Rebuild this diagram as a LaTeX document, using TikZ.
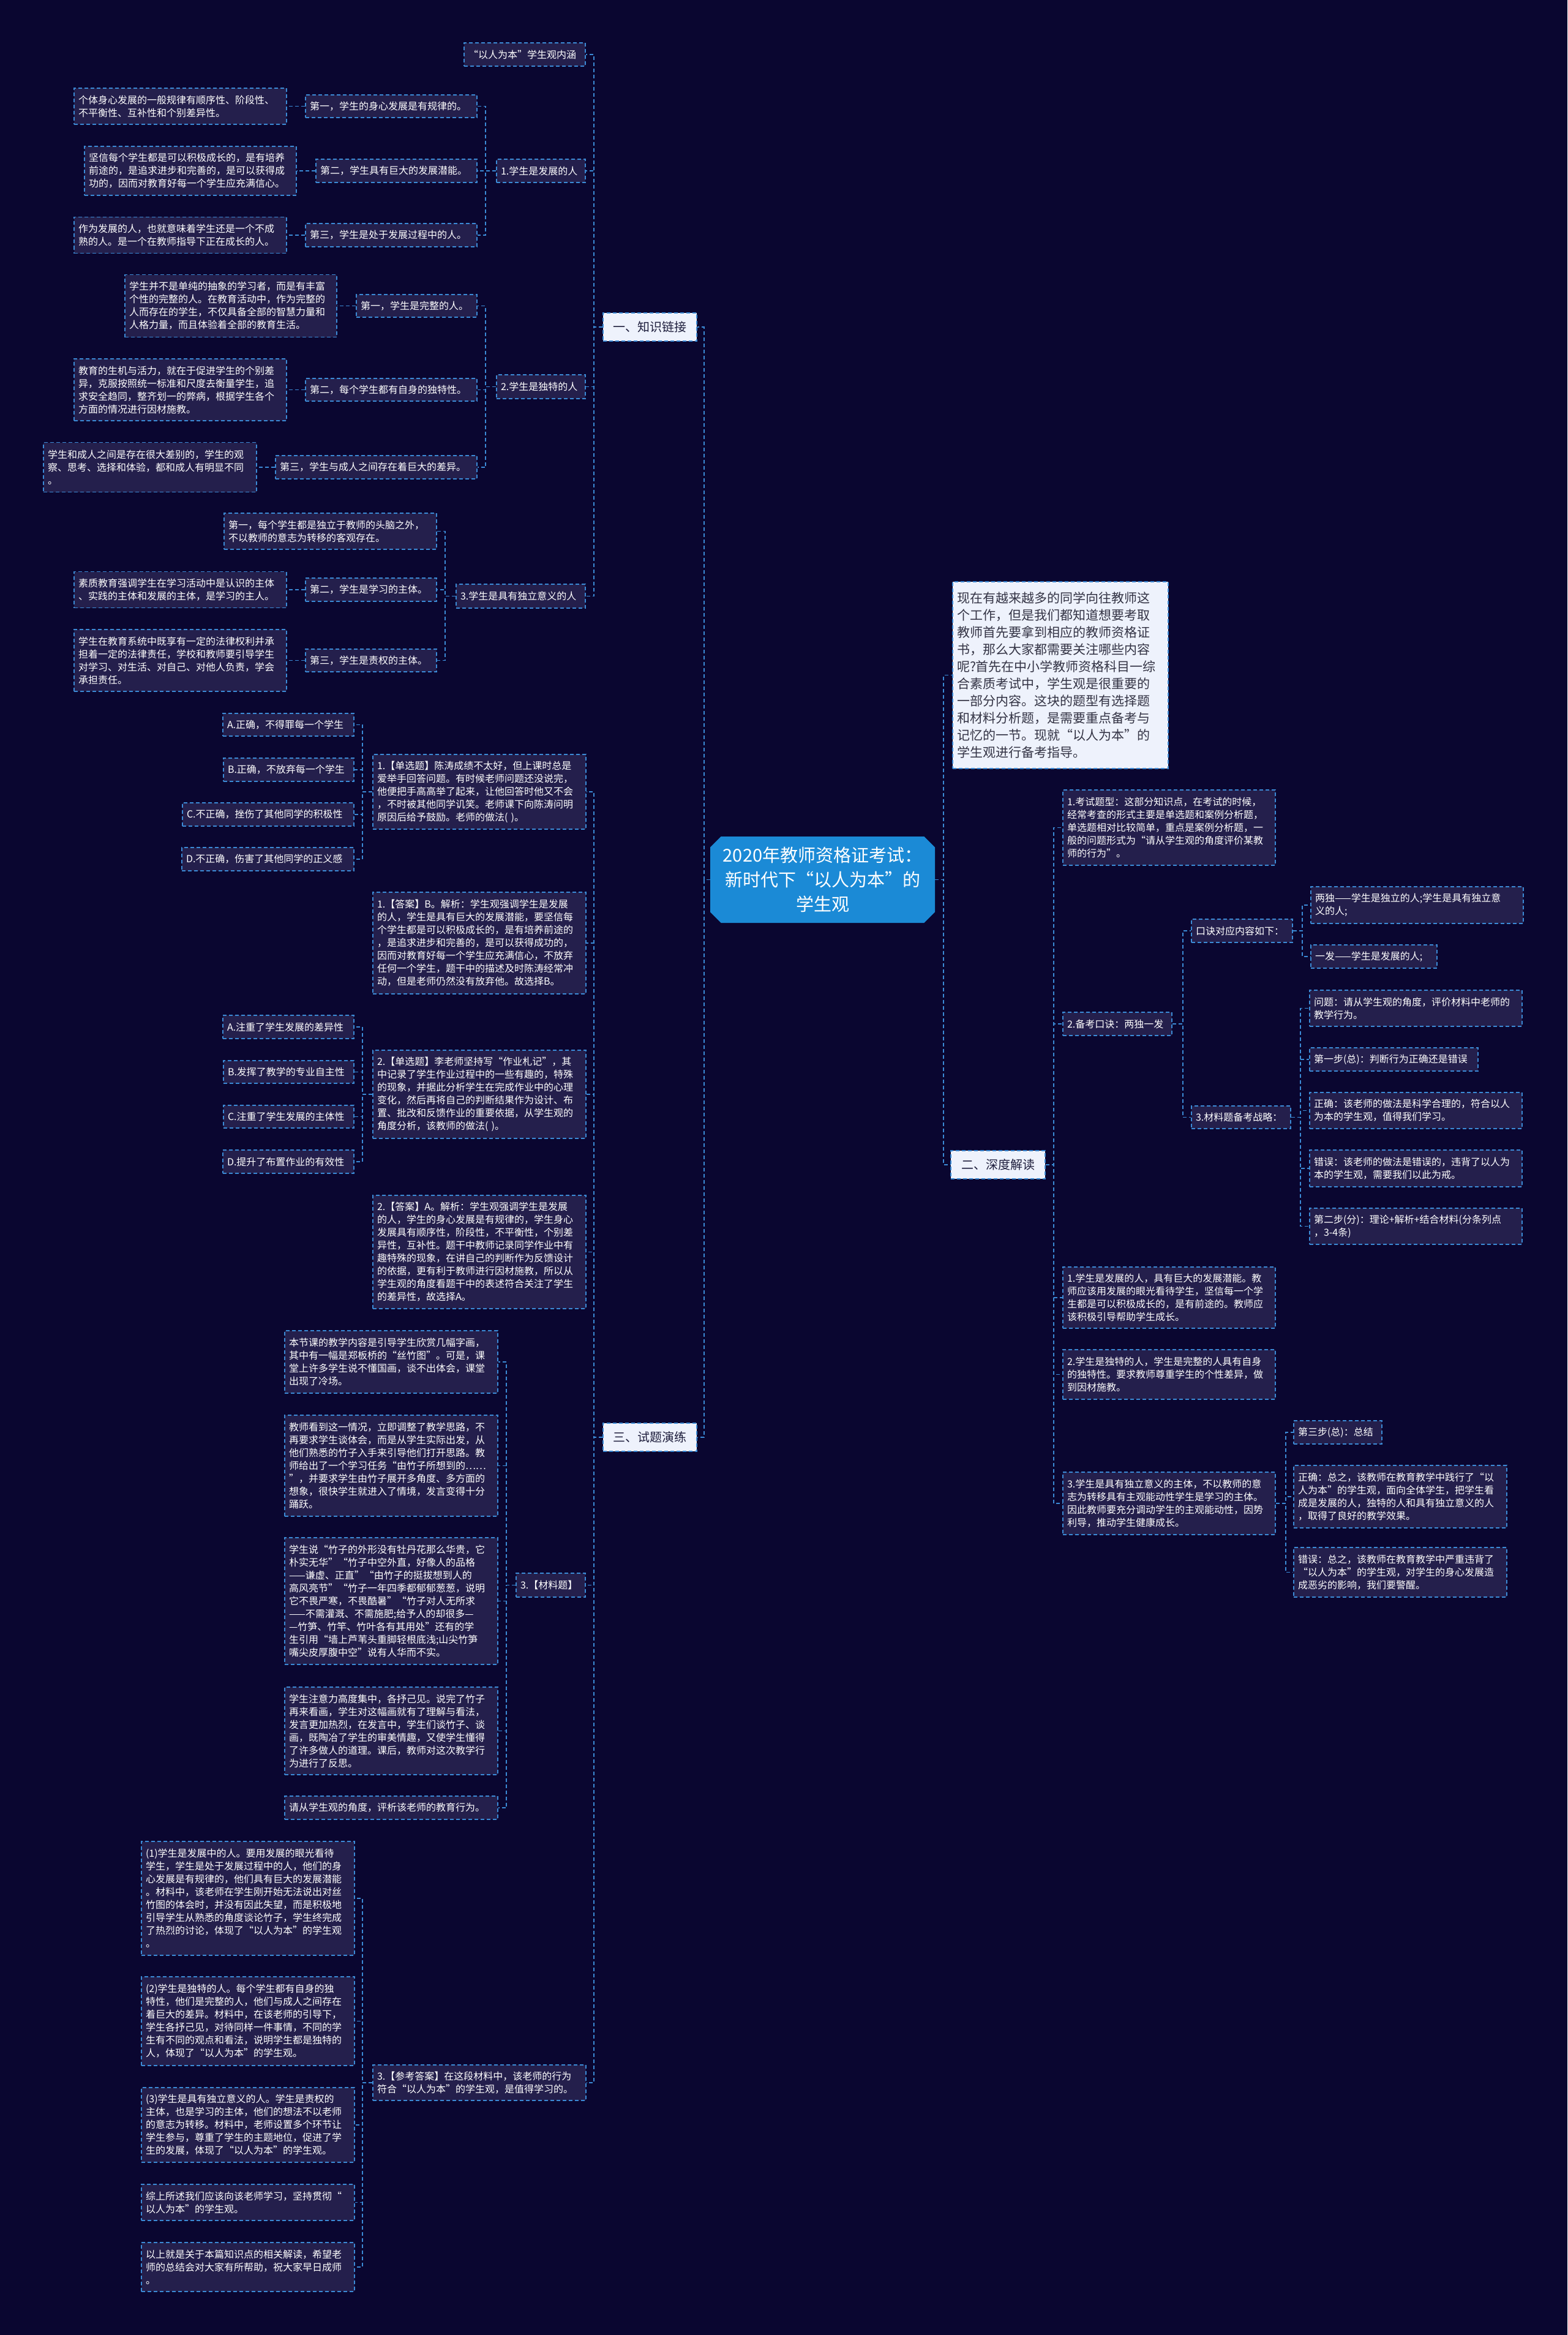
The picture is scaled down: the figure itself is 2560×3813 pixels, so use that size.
\documentclass[tikz,border=0pt]{standalone}
\usepackage{fontspec}
\setmainfont{Noto Sans CJK SC}
\usetikzlibrary{shapes.misc}
\definecolor{bgc}{HTML}{0A0630}
\definecolor{boxc}{HTML}{241F4C}
\definecolor{linec}{HTML}{3B8AD5}
\definecolor{hubc}{HTML}{1B8AD6}
\definecolor{lightc}{HTML}{EEF2FC}
\definecolor{inkc}{HTML}{1E1E3C}
\definecolor{introink}{HTML}{333344}
\tikzset{
  dsh/.style={dash pattern=on 6pt off 4pt, line width=1.6pt},
  leaf/.style={draw=linec, dsh, fill=boxc, text=white, inner xsep=7pt, inner ysep=3pt, align=left, font=\fontsize{16}{21}\selectfont},
  sect/.style={draw=linec, dsh, fill=lightc, text=inkc, inner sep=0pt, minimum width=153pt, minimum height=46pt, font=\fontsize{20}{24}\selectfont},
  intro/.style={draw=linec, dsh, fill=lightc, text=introink, inner xsep=7pt, inner ysep=3pt, align=left, font=\fontsize{21}{28}\selectfont},
  hub/.style={chamfered rectangle, chamfered rectangle xsep=14pt, fill=hubc, text=white, align=center, font=\fontsize{29}{40}\selectfont, minimum width=367pt, minimum height=141pt, inner sep=0pt},
  link/.style={draw=linec, dsh},
}
\newcommand\lnk[3]{\draw[link] (#1.west) -- ++(-#3,0) |- (#2.east);}
\newcommand\rnk[3]{\draw[link] (#1.east) -- ++(#3,0) |- (#2.west);}
\begin{document}
\begin{tikzpicture}[x=1pt,y=-1pt]
\fill[bgc] (0,0) rectangle (2560,3813);
\useasboundingbox (0,0) rectangle (2560,3813);

% ---------- centre ----------
\node[hub] (hub) at (1343.5,1436.5) {2020年教师资格证考试：\\新时代下“以人为本”的\\学生观};

% ---------- section 1 ----------
\node[sect] (sec1) at (1061.5,534) {一、知识链接};
\node[leaf,text width=184pt,minimum height=38pt] (neihan) at (857,89) {“以人为本”学生观内涵};
\node[leaf,text width=131pt,minimum height=38pt] (dev1) at (883.5,279) {1.学生是发展的人};
\node[leaf,text width=131pt,minimum height=39pt] (dev2) at (883.5,631.5) {2.学生是独特的人};
\node[leaf,text width=197pt,minimum height=39pt] (dev3) at (850.5,973.5) {3.学生是具有独立意义的人};

\node[leaf,text width=266pt,minimum height=37pt] (a1) at (639,173.5) {第一，学生的身心发展是有规律的。};
\node[leaf,text width=333pt,minimum height=59pt] (a1d) at (294.5,173.5) {个体身心发展的一般规律有顺序性、阶段性、\\不平衡性、互补性和个别差异性。};
\node[leaf,text width=249pt,minimum height=38pt] (a2) at (647.5,279) {第二，学生具有巨大的发展潜能。};
\node[leaf,text width=332pt,minimum height=80pt] (a2d) at (311,279) {坚信每个学生都是可以积极成长的，是有培养\\前途的，是追求进步和完善的，是可以获得成\\功的，因而对教育好每一个学生应充满信心。};
\node[leaf,text width=266pt,minimum height=38pt] (a3) at (639,384) {第三，学生是处于发展过程中的人。};
\node[leaf,text width=333pt,minimum height=59pt] (a3d) at (294.5,384) {作为发展的人，也就意味着学生还是一个不成\\熟的人。是一个在教师指导下正在成长的人。};

\node[leaf,text width=183pt,minimum height=37pt] (b1) at (680.5,499.5) {第一，学生是完整的人。};
\node[leaf,text width=332pt,minimum height=102pt] (b1d) at (377,499.5) {学生并不是单纯的抽象的学习者，而是有丰富\\个性的完整的人。在教育活动中，作为完整的\\人而存在的学生，不仅具备全部的智慧力量和\\人格力量，而且体验着全部的教育生活。};
\node[leaf,text width=266pt,minimum height=37pt] (b2) at (639,636.5) {第二，每个学生都有自身的独特性。};
\node[leaf,text width=333pt,minimum height=101pt] (b2d) at (294.5,636.5) {教育的生机与活力，就在于促进学生的个别差\\异，克服按照统一标准和尺度去衡量学生，追\\求安全趋同，整齐划一的弊病，根据学生各个\\方面的情况进行因材施教。};
\node[leaf,text width=315pt,minimum height=38pt] (b3) at (614.5,763) {第三，学生与成人之间存在着巨大的差异。};
\node[leaf,text width=334pt,minimum height=81pt] (b3d) at (245,763) {学生和成人之间是存在很大差别的，学生的观\\察、思考、选择和体验，都和成人有明显不同\\。};

\node[leaf,text width=333pt,minimum height=59pt] (c1) at (539.5,867.5) {第一，每个学生都是独立于教师的头脑之外，\\不以教师的意志为转移的客观存在。};
\node[leaf,text width=200pt,minimum height=38pt] (c2) at (606,963) {第二，学生是学习的主体。};
\node[leaf,text width=333pt,minimum height=59pt] (c2d) at (294.5,963) {素质教育强调学生在学习活动中是认识的主体\\、实践的主体和发展的主体，是学习的主人。};
\node[leaf,text width=200pt,minimum height=37pt] (c3) at (606,1078.5) {第三，学生是责权的主体。};
\node[leaf,text width=333pt,minimum height=101pt] (c3d) at (294.5,1078.5) {学生在教育系统中既享有一定的法律权利并承\\担着一定的法律责任，学校和教师要引导学生\\对学习、对生活、对自己、对他人负责，学会\\承担责任。};

% ---------- section 3 ----------
\node[sect] (sec3) at (1061.5,2347) {三、试题演练};
\node[leaf,text width=334pt,minimum height=122pt] (q1) at (783,1293) {1.【单选题】陈涛成绩不太好，但上课时总是\\爱举手回答问题。有时候老师问题还没说完，\\他便把手高高举了起来，让他回答时他又不会\\，不时被其他同学讥笑。老师课下向陈涛问明\\原因后给予鼓励。老师的做法(~)。};
\node[leaf,text width=200pt,minimum height=37pt] (optA) at (471,1183.5) {A.正确，不得罪每一个学生};
\node[leaf,text width=199pt,minimum height=38pt] (optB) at (471.5,1257) {B.正确，不放弃每一个学生};
\node[leaf,text width=266pt,minimum height=38pt] (optC) at (438,1330) {C.不正确，挫伤了其他同学的积极性};
\node[leaf,text width=267pt,minimum height=38pt] (optD) at (437.5,1403) {D.不正确，伤害了其他同学的正义感};
\node[leaf,text width=334pt,minimum height=166pt] (ans1) at (783,1540) {1.【答案】B。解析：学生观强调学生是发展\\的人，学生是具有巨大的发展潜能，要坚信每\\个学生都是可以积极成长的，是有培养前途的\\，是追求进步和完善的，是可以获得成功的，\\因而对教育好每一个学生应充满信心，不放弃\\任何一个学生，题干中的描述及时陈涛经常冲\\动，但是老师仍然没有放弃他。故选择B。};
\node[leaf,text width=334pt,minimum height=144pt] (q2) at (783,1787) {2.【单选题】李老师坚持写“作业札记”，其\\中记录了学生作业过程中的一些有趣的，特殊\\的现象，并据此分析学生在完成作业中的心理\\变化，然后再将自己的判断结果作为设计、布\\置、批改和反馈作业的重要依据，从学生观的\\角度分析，该教师的做法(~)。};
\node[leaf,text width=200pt,minimum height=38pt] (optA2) at (471,1677) {A.注重了学生发展的差异性};
\node[leaf,text width=199pt,minimum height=37pt] (optB2) at (471.5,1750.5) {B.发挥了教学的专业自主性};
\node[leaf,text width=199pt,minimum height=37pt] (optC2) at (471.5,1823.5) {C.注重了学生发展的主体性};
\node[leaf,text width=200pt,minimum height=38pt] (optD2) at (471,1897) {D.提升了布置作业的有效性};
\node[leaf,text width=334pt,minimum height=185pt] (ans2) at (783,2044.5) {2.【答案】A。解析：学生观强调学生是发展\\的人，学生的身心发展是有规律的，学生身心\\发展具有顺序性，阶段性，不平衡性，个别差\\异性，互补性。题干中教师记录同学作业中有\\趣特殊的现象，在讲自己的判断作为反馈设计\\的依据，更有利于教师进行因材施教，所以从\\学生观的角度看题干中的表述符合关注了学生\\的差异性，故选择A。};
\node[leaf,text width=99pt,minimum height=39pt] (mat) at (899.5,2588.5) {3.【材料题】};
\node[leaf,text width=334pt,minimum height=102pt] (m1) at (639,2224) {本节课的教学内容是引导学生欣赏几幅字画，\\其中有一幅是郑板桥的“丝竹图”。可是，课\\堂上许多学生说不懂国画，谈不出体会，课堂\\出现了冷场。};
\node[leaf,text width=334pt,minimum height=165pt] (m2) at (639,2393.5) {教师看到这一情况，立即调整了教学思路，不\\再要求学生谈体会，而是从学生实际出发，从\\他们熟悉的竹子入手来引导他们打开思路。教\\师给出了一个学习任务“由竹子所想到的……\\”，并要求学生由竹子展开多角度、多方面的\\想象，很快学生就进入了情境，发言变得十分\\踊跃。};
\node[leaf,text width=334pt,minimum height=207pt] (m3) at (639,2614.5) {学生说“竹子的外形没有牡丹花那么华贵，它\\朴实无华”“竹子中空外直，好像人的品格\\——谦虚、正直”“由竹子的挺拔想到人的\\高风亮节”“竹子一年四季都郁郁葱葱，说明\\它不畏严寒，不畏酷暑”“竹子对人无所求\\——不需灌溉、不需施肥;给予人的却很多—\\—竹笋、竹竿、竹叶各有其用处”还有的学\\生引用“墙上芦苇头重脚轻根底浅;山尖竹笋\\嘴尖皮厚腹中空”说有人华而不实。};
\node[leaf,text width=334pt,minimum height=143pt] (m4) at (639,2826.5) {学生注意力高度集中，各抒己见。说完了竹子\\再来看画，学生对这幅画就有了理解与看法，\\发言更加热烈，在发言中，学生们谈竹子、谈\\画，既陶冶了学生的审美情趣，又使学生懂得\\了许多做人的道理。课后，教师对这次教学行\\为进行了反思。};
\node[leaf,text width=334pt,minimum height=38pt] (m5) at (639,2952) {请从学生观的角度，评析该老师的教育行为。};
\node[leaf,text width=334pt,minimum height=58pt] (ref) at (783,3401) {3.【参考答案】在这段材料中，该老师的行为\\符合“以人为本”的学生观，是值得学习的。};
\node[leaf,text width=334pt,minimum height=186pt] (r1) at (405,3100) {(1)学生是发展中的人。要用发展的眼光看待\\学生，学生是处于发展过程中的人，他们的身\\心发展是有规律的，他们具有巨大的发展潜能\\。材料中，该老师在学生刚开始无法说出对丝\\竹图的体会时，并没有因此失望，而是积极地\\引导学生从熟悉的角度谈论竹子，学生终完成\\了热烈的讨论，体现了“以人为本”的学生观\\。};
\node[leaf,text width=334pt,minimum height=145pt] (r2) at (405,3300.5) {(2)学生是独特的人。每个学生都有自身的独\\特性，他们是完整的人，他们与成人之间存在\\着巨大的差异。材料中，在该老师的引导下，\\学生各抒己见，对待同样一件事情，不同的学\\生有不同的观点和看法，说明学生都是独特的\\人，体现了“以人为本”的学生观。};
\node[leaf,text width=334pt,minimum height=122pt] (r3) at (405,3470) {(3)学生是具有独立意义的人。学生是责权的\\主体，也是学习的主体，他们的想法不以老师\\的意志为转移。材料中，老师设置多个环节让\\学生参与，尊重了学生的主题地位，促进了学\\生的发展，体现了“以人为本”的学生观。};
\node[leaf,text width=334pt,minimum height=59pt] (r4) at (405,3596.5) {综上所述我们应该向该老师学习，坚持贯彻“\\以人为本”的学生观。};
\node[leaf,text width=334pt,minimum height=80pt] (r5) at (405,3702) {以上就是关于本篇知识点的相关解读，希望老\\师的总结会对大家有所帮助，祝大家早日成师\\。};

% ---------- section 2 ----------
\node[intro,text width=338pt,minimum height=305pt] (intro) at (1732,1102.5) {现在有越来越多的同学向往教师这\\个工作，但是我们都知道想要考取\\教师首先要拿到相应的教师资格证\\书，那么大家都需要关注哪些内容\\呢?首先在中小学教师资格科目一综\\合素质考试中，学生观是很重要的\\一部分内容。这块的题型有选择题\\和材料分析题，是需要重点备考与\\记忆的一节。现就“以人为本”的\\学生观进行备考指导。};
\node[sect,minimum width=154pt] (sec2) at (1630,1902) {二、深度解读};
\node[leaf,text width=333pt,minimum height=123pt] (k1) at (1909.5,1351.5) {1.考试题型：这部分知识点，在考试的时候，\\经常考查的形式主要是单选题和案例分析题，\\单选题相对比较简单，重点是案例分析题，一\\般的问题形式为“请从学生观的角度评价某教\\师的行为”。};
\node[leaf,text width=164pt,minimum height=38pt] (k2) at (1825,1672) {2.备考口诀：两独一发};
\node[leaf,text width=151pt,minimum height=38pt] (kj) at (2028.5,1520) {口诀对应内容如下：};
\node[leaf,text width=333pt,minimum height=60pt] (kj1) at (2314.5,1478) {两独——学生是独立的人;学生是具有独立意\\义的人;};
\node[leaf,text width=192pt,minimum height=38pt] (kj2) at (2244,1562) {一发——学生是发展的人;};
\node[leaf,text width=148pt,minimum height=37pt] (st) at (2027,1824.5) {3.材料题备考战略：};
\node[leaf,text width=333pt,minimum height=59pt] (st0) at (2312.5,1646.5) {问题：请从学生观的角度，评价材料中老师的\\教学行为。};
\node[leaf,text width=261pt,minimum height=38pt] (st1) at (2276.5,1730) {第一步(总)：判断行为正确还是错误};
\node[leaf,text width=333pt,minimum height=59pt] (st2) at (2312.5,1813.5) {正确：该老师的做法是科学合理的，符合以人\\为本的学生观，值得我们学习。};
\node[leaf,text width=333pt,minimum height=60pt] (st3) at (2312.5,1908) {错误：该老师的做法是错误的，违背了以人为\\本的学生观，需要我们以此为戒。};
\node[leaf,text width=333pt,minimum height=59pt] (st4) at (2312.5,2002.5) {第二步(分)：理论+解析+结合材料(分条列点\\，3-4条)};
\node[leaf,text width=333pt,minimum height=100pt] (l1) at (1909.5,2119) {1.学生是发展的人，具有巨大的发展潜能。教\\师应该用发展的眼光看待学生，坚信每一个学\\生都是可以积极成长的，是有前途的。教师应\\该积极引导帮助学生成长。};
\node[leaf,text width=333pt,minimum height=81pt] (l2) at (1909.5,2244.5) {2.学生是独特的人，学生是完整的人具有自身\\的独特性。要求教师尊重学生的个性差异，做\\到因材施教。};
\node[leaf,text width=333pt,minimum height=102pt] (l3) at (1909.5,2455) {3.学生是具有独立意义的主体，不以教师的意\\志为转移具有主观能动性学生是学习的主体。\\因此教师要充分调动学生的主观能动性，因势\\利导，推动学生健康成长。};
\node[leaf,text width=130pt,minimum height=38pt] (s1) at (2185,2339) {第三步(总)：总结};
\node[leaf,text width=334pt,minimum height=102pt] (s2) at (2287,2444) {正确：总之，该教师在教育教学中践行了“以\\人为本”的学生观，面向全体学生，把学生看\\成是发展的人，独特的人和具有独立意义的人\\，取得了良好的教学效果。};
\node[leaf,text width=334pt,minimum height=81pt] (s3) at (2287,2567.5) {错误：总之，该教师在教育教学中严重违背了\\“以人为本”的学生观，对学生的身心发展造\\成恶劣的影响，我们要警醒。};

% ---------- connectors ----------
\lnk{hub}{sec1}{10}\lnk{hub}{sec3}{10}
\lnk{sec1}{neihan}{14}\lnk{sec1}{dev1}{14}\lnk{sec1}{dev2}{14}\lnk{sec1}{dev3}{14}
\lnk{dev1}{a1}{17}\lnk{dev1}{a2}{17}\lnk{dev1}{a3}{17}
\lnk{a1}{a1d}{15}\lnk{a2}{a2d}{15}\lnk{a3}{a3d}{15}
\lnk{dev2}{b1}{17}\lnk{dev2}{b2}{17}\lnk{dev2}{b3}{17}
\lnk{b1}{b1d}{15}\lnk{b2}{b2d}{15}\lnk{b3}{b3d}{15}
\lnk{dev3}{c1}{17}\lnk{dev3}{c2}{17}\lnk{dev3}{c3}{17}
\lnk{c2}{c2d}{15}\lnk{c3}{c3d}{15}
\lnk{sec3}{q1}{14}\lnk{sec3}{ans1}{14}\lnk{sec3}{q2}{14}\lnk{sec3}{ans2}{14}\lnk{sec3}{mat}{14}\lnk{sec3}{ref}{14}
\lnk{q1}{optA}{16}\lnk{q1}{optB}{16}\lnk{q1}{optC}{16}\lnk{q1}{optD}{16}
\lnk{q2}{optA2}{16}\lnk{q2}{optB2}{16}\lnk{q2}{optC2}{16}\lnk{q2}{optD2}{16}
\lnk{mat}{m1}{15}\lnk{mat}{m2}{15}\lnk{mat}{m3}{15}\lnk{mat}{m4}{15}\lnk{mat}{m5}{15}
\lnk{ref}{r1}{16}\lnk{ref}{r2}{16}\lnk{ref}{r3}{16}\lnk{ref}{r4}{16}\lnk{ref}{r5}{16}
\rnk{hub}{intro}{14}\rnk{hub}{sec2}{14}
\rnk{sec2}{k1}{13}\rnk{sec2}{k2}{13}\rnk{sec2}{l1}{13}\rnk{sec2}{l2}{13}\rnk{sec2}{l3}{13}
\rnk{k2}{kj}{17}\rnk{k2}{st}{17}
\rnk{kj}{kj1}{15}\rnk{kj}{kj2}{15}
\rnk{st}{st0}{15}\rnk{st}{st1}{15}\rnk{st}{st2}{15}\rnk{st}{st3}{15}\rnk{st}{st4}{15}
\rnk{l3}{s1}{16}\rnk{l3}{s2}{16}\rnk{l3}{s3}{16}
\end{tikzpicture}
\end{document}
